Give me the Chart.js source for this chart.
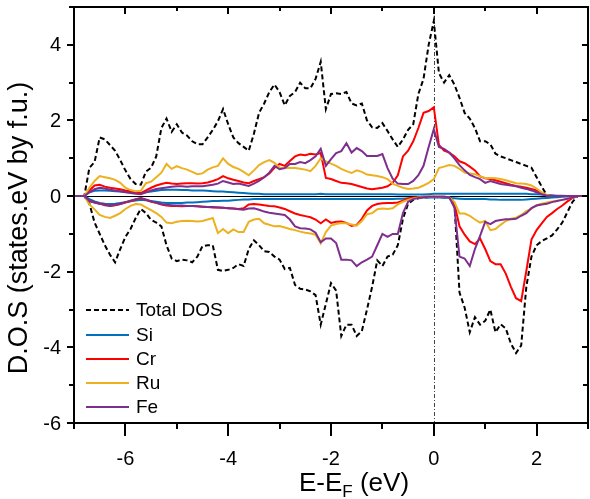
<!DOCTYPE html>
<html>
<head>
<meta charset="utf-8">
<script src="https://cdn.jsdelivr.net/npm/chart.js@4/dist/chart.umd.min.js"></script>
<style>
html,body{margin:0;padding:0;background:#fff;}
canvas{display:block;}
</style>
</head>
<body>
<canvas id="c" width="590" height="499"></canvas>
<script>
// Energy grid E - E_F (eV)
const energy = [-7.0,-6.9,-6.8,-6.7,-6.6,-6.5,-6.4,-6.3,-6.2,-6.1,-6.0,
-5.9,-5.8,-5.7,-5.6,-5.5,-5.4,-5.3,-5.2,-5.1,-5.0,
-4.9,-4.8,-4.7,-4.6,-4.5,-4.4,-4.3,-4.2,-4.1,-4.0,
-3.9,-3.8,-3.7,-3.6,-3.5,-3.4,-3.3,-3.2,-3.1,-3.0,
-2.9,-2.8,-2.7,-2.6,-2.5,-2.4,-2.3,-2.2,-2.1,-2.0,
-1.9,-1.8,-1.7,-1.6,-1.5,-1.4,-1.3,-1.2,-1.1,-1.0,
-0.9,-0.8,-0.7,-0.6,-0.5,-0.4,-0.3,-0.2,-0.1,0.0,
0.1,0.2,0.3,0.4,0.5,0.6,0.7,0.8,0.9,1.0,
1.1,1.2,1.3,1.4,1.5,1.6,1.7,1.8,1.9,2.0,
2.1,2.2,2.3,2.4,2.5,2.6,2.7,2.8,2.9,3.0];

const totalUp = [0,0,0,0.75,0.9,1.55,1.5,1.35,1.2,0.95,0.68,
0.45,0.32,0.3,0.65,0.75,1.05,1.8,2.05,1.7,1.9,
1.68,1.6,1.45,1.37,1.37,1.55,1.75,1.98,2.3,1.9,
1.55,1.4,1.3,1.2,1.65,2.2,2.45,2.75,2.95,2.75,
2.4,2.65,2.75,3.0,2.85,2.85,3.1,3.55,2.3,2.7,
2.72,2.7,2.75,2.45,2.4,2.45,2.0,1.82,1.8,1.93,
1.72,1.5,1.3,1.5,1.75,1.9,2.7,3.1,4.0,4.63,
3.25,3.0,3.2,2.95,2.6,2.2,2.05,1.8,1.45,1.45,
1.37,1.12,1.05,1.0,0.95,0.9,0.85,0.8,0.75,0.5,
0.25,0.02,0,0,0,0,0,0,0,0];
const totalDown = [0,0,0,-0.2,-0.7,-1.0,-1.3,-1.55,-1.75,-1.4,-1.08,
-0.87,-0.58,-0.34,-0.45,-0.63,-0.7,-0.8,-1.3,-1.65,-1.72,
-1.68,-1.7,-1.75,-1.6,-1.32,-1.3,-1.3,-1.95,-1.98,-1.95,
-1.9,-1.8,-1.85,-1.4,-1.17,-1.3,-1.46,-1.48,-1.6,-1.68,
-1.93,-1.9,-2.35,-2.45,-2.47,-2.52,-2.62,-3.4,-2.85,-2.3,
-2.5,-3.7,-3.4,-3.4,-3.7,-3.57,-3.0,-2.4,-1.7,-1.85,
-1.6,-1.55,-1.3,-0.6,-0.2,-0.1,-0.06,-0.04,-0.03,-0.02,
-0.03,-0.04,-0.05,-0.15,-2.55,-2.95,-3.6,-3.2,-3.4,-3.3,
-3.0,-3.6,-3.39,-3.5,-3.9,-4.15,-3.95,-2.4,-1.6,-1.3,
-1.19,-1.12,-1.04,-0.88,-0.7,-0.42,-0.15,0,0,0];

const siUp = [0,0,0,0.1,0.14,0.15,0.15,0.14,0.13,0.12,0.11,
0.1,0.09,0.08,0.1,0.12,0.14,0.16,0.17,0.17,0.17,
0.16,0.16,0.15,0.15,0.15,0.14,0.13,0.12,0.12,0.11,
0.1,0.09,0.08,0.07,0.06,0.06,0.05,0.05,0.05,0.05,
0.05,0.05,0.05,0.05,0.05,0.05,0.05,0.06,0.05,0.05,
0.05,0.05,0.05,0.05,0.05,0.05,0.05,0.05,0.05,0.05,
0.05,0.05,0.04,0.04,0.04,0.04,0.04,0.04,0.05,0.06,
0.06,0.06,0.06,0.06,0.06,0.06,0.06,0.06,0.06,0.06,
0.06,0.06,0.06,0.06,0.06,0.06,0.06,0.06,0.05,0.05,
0.04,0.03,0.02,0.01,0.01,0.005,0,0,0,0];
const siDown = [0,0,0,-0.08,-0.14,-0.18,-0.2,-0.21,-0.2,-0.18,-0.16,
-0.14,-0.12,-0.1,-0.11,-0.13,-0.15,-0.17,-0.18,-0.18,-0.18,
-0.18,-0.17,-0.17,-0.16,-0.15,-0.14,-0.13,-0.13,-0.12,-0.12,
-0.11,-0.1,-0.09,-0.09,-0.08,-0.08,-0.08,-0.08,-0.08,-0.08,
-0.08,-0.08,-0.08,-0.08,-0.08,-0.08,-0.08,-0.08,-0.08,-0.08,
-0.08,-0.08,-0.08,-0.08,-0.08,-0.08,-0.08,-0.08,-0.08,-0.08,
-0.08,-0.08,-0.07,-0.07,-0.06,-0.05,-0.05,-0.04,-0.04,-0.04,
-0.04,-0.04,-0.05,-0.06,-0.07,-0.08,-0.08,-0.08,-0.08,-0.08,
-0.09,-0.09,-0.1,-0.1,-0.1,-0.1,-0.1,-0.09,-0.08,-0.07,
-0.06,-0.05,-0.04,-0.03,-0.02,-0.01,-0.005,0,0,0];

const crUp = [0,0,0,0.15,0.28,0.3,0.25,0.22,0.2,0.18,0.15,
0.13,0.1,0.08,0.15,0.22,0.28,0.32,0.35,0.33,0.32,
0.33,0.34,0.34,0.33,0.34,0.36,0.4,0.45,0.53,0.47,
0.43,0.4,0.36,0.34,0.4,0.45,0.5,0.6,0.75,0.85,
0.8,0.93,1.05,1.1,1.08,1.12,1.1,1.14,0.48,0.45,
0.4,0.35,0.34,0.32,0.28,0.24,0.2,0.18,0.2,0.22,
0.26,0.35,0.55,1.05,1.2,1.45,1.8,2.2,2.25,2.35,
1.35,1.2,1.15,1.05,0.92,0.87,0.78,0.68,0.52,0.47,
0.45,0.42,0.38,0.34,0.3,0.27,0.25,0.22,0.19,0.15,
0.09,0.02,0,0,0,0,0,0,0,0];
const crDown = [0,0,0,-0.13,-0.17,-0.2,-0.22,-0.26,-0.24,-0.21,-0.17,
-0.13,-0.09,-0.06,-0.1,-0.15,-0.18,-0.22,-0.25,-0.26,-0.26,
-0.27,-0.26,-0.26,-0.27,-0.28,-0.29,-0.3,-0.3,-0.31,-0.32,
-0.33,-0.34,-0.32,-0.22,-0.21,-0.22,-0.24,-0.26,-0.27,-0.3,
-0.34,-0.4,-0.46,-0.5,-0.53,-0.56,-0.62,-0.72,-0.62,-0.71,
-0.68,-0.67,-0.71,-0.79,-0.76,-0.6,-0.38,-0.26,-0.21,-0.19,
-0.18,-0.18,-0.17,-0.12,-0.07,-0.04,-0.03,-0.02,-0.02,-0.02,
-0.02,-0.02,-0.03,-0.2,-0.8,-1.02,-1.2,-1.27,-1.12,-1.4,
-1.72,-1.8,-1.8,-2.05,-2.4,-2.7,-2.78,-1.98,-1.15,-0.9,
-0.72,-0.55,-0.45,-0.34,-0.25,-0.14,-0.05,0,0,0];

const ruUp = [0,0,0,0.22,0.4,0.53,0.5,0.47,0.43,0.35,0.22,
0.16,0.13,0.14,0.34,0.38,0.5,0.62,0.85,0.72,0.79,
0.74,0.7,0.64,0.58,0.6,0.7,0.76,0.8,1.0,0.85,
0.77,0.72,0.64,0.55,0.68,0.82,0.9,0.95,0.88,0.75,
0.74,0.74,0.74,0.72,0.7,0.66,0.8,1.0,0.92,0.86,
0.8,0.72,0.66,0.61,0.68,0.64,0.57,0.55,0.53,0.5,
0.45,0.33,0.27,0.22,0.19,0.2,0.22,0.28,0.35,0.45,
0.74,0.78,0.82,0.8,0.72,0.62,0.6,0.58,0.52,0.48,
0.48,0.47,0.45,0.42,0.38,0.34,0.33,0.32,0.28,0.2,
0.1,0.02,0,0,0,0,0,0,0,0];
const ruDown = [0,0,0,-0.22,-0.35,-0.5,-0.55,-0.58,-0.52,-0.45,-0.34,
-0.26,-0.21,-0.22,-0.3,-0.37,-0.45,-0.55,-0.7,-0.72,-0.68,
-0.66,-0.65,-0.66,-0.67,-0.66,-0.62,-0.58,-0.98,-0.87,-0.98,
-0.88,-0.95,-0.95,-0.68,-0.62,-0.6,-0.72,-0.76,-0.8,-0.79,
-0.83,-0.87,-0.9,-0.94,-0.97,-0.99,-1.02,-1.25,-0.95,-0.78,
-0.74,-0.71,-0.72,-0.75,-0.78,-0.66,-0.48,-0.45,-0.35,-0.33,
-0.34,-0.32,-0.22,-0.15,-0.1,-0.06,-0.04,-0.03,-0.02,-0.02,
-0.02,-0.02,-0.03,-0.15,-0.46,-0.46,-0.52,-0.62,-0.7,-0.66,
-0.9,-0.87,-0.76,-0.66,-0.6,-0.57,-0.5,-0.4,-0.33,-0.24,
-0.2,-0.17,-0.14,-0.12,-0.1,-0.07,-0.04,0,0,0];

const feUp = [0,0,0,0.1,0.18,0.22,0.2,0.17,0.15,0.13,0.1,
0.08,0.06,0.05,0.1,0.15,0.19,0.21,0.23,0.25,0.26,
0.26,0.25,0.26,0.26,0.26,0.28,0.3,0.33,0.4,0.36,
0.32,0.33,0.3,0.27,0.33,0.4,0.5,0.62,0.8,0.71,
0.74,0.85,0.85,0.9,0.87,0.95,1.05,1.25,0.8,0.98,
1.14,1.19,1.4,1.15,1.27,1.19,1.06,1.06,1.06,1.11,
0.74,0.46,0.33,0.32,0.32,0.4,0.55,0.8,1.3,1.77,
1.3,1.25,1.15,1.0,0.82,0.68,0.56,0.5,0.45,0.35,
0.4,0.36,0.32,0.3,0.28,0.26,0.22,0.19,0.15,0.1,
0.05,0.01,0,0,0,0,0,0,0,0];
const feDown = [0,0,0,-0.13,-0.17,-0.2,-0.24,-0.26,-0.23,-0.21,-0.16,
-0.12,-0.08,-0.05,-0.09,-0.14,-0.18,-0.21,-0.23,-0.24,-0.25,
-0.25,-0.26,-0.26,-0.27,-0.28,-0.29,-0.29,-0.3,-0.31,-0.32,
-0.33,-0.35,-0.36,-0.33,-0.32,-0.36,-0.41,-0.44,-0.46,-0.48,
-0.5,-0.62,-0.8,-0.85,-0.86,-0.88,-0.97,-1.22,-1.12,-1.12,
-1.24,-1.68,-1.68,-1.7,-1.85,-1.75,-1.68,-1.6,-1.3,-1.0,
-1.08,-1.0,-1.0,-0.45,-0.15,-0.08,-0.05,-0.03,-0.02,-0.02,
-0.02,-0.02,-0.03,-0.3,-1.6,-1.65,-1.85,-1.4,-1.05,-0.68,
-0.74,-0.66,-0.63,-0.61,-0.61,-0.6,-0.52,-0.45,-0.32,-0.25,
-0.22,-0.2,-0.16,-0.13,-0.1,-0.07,-0.04,0,0,0];

// Axis ticks
const xTickValues = [-7,-6,-5,-4,-3,-2,-1,0,1,2,3];
const xTickLabels = ['', '-6', '', '-4', '', '-2', '', '0', '', '2', ''];
const yTickValues = [-6,-5,-4,-3,-2,-1,0,1,2,3,4,5];
const yTickLabels = ['-6', '', '-4', '', '-2', '', '0', '', '2', '', '4', ''];

const seriesNames = ['Total DOS', 'Si', 'Cr', 'Ru', 'Fe'];
const seriesColors = ['#000000', '#0072BD', '#FF0000', '#EDB120', '#7E2F8E'];
const seriesUp = [totalUp, siUp, crUp, ruUp, feUp];
const seriesDown = [totalDown, siDown, crDown, ruDown, feDown];

const FONT = '"Liberation Sans", Arial, sans-serif';

const pts = arr => energy.map((e, i) => ({x: e, y: arr[i]}));

const datasets = [];
seriesNames.forEach((name, k) => {
  [seriesUp[k], seriesDown[k]].forEach((arr, j) => {
    datasets.push({
      label: name,
      legendEntry: j === 0,
      data: pts(arr),
      borderColor: seriesColors[k],
      backgroundColor: seriesColors[k],
      borderWidth: 2,
      borderDash: k === 0 ? [5, 3] : [],
      pointRadius: 0,
      tension: 0,
      fill: false,
      order: 10 - k
    });
  });
});

const decorPlugin = {
  id: 'decor',
  beforeDatasetsDraw(chart) {
    const {ctx, chartArea: a, scales: {x, y}} = chart;
    ctx.save();
    ctx.lineWidth = 1;
    ctx.strokeStyle = '#000';
    const y0 = Math.round(y.getPixelForValue(0)) + 0.5;
    ctx.beginPath(); ctx.moveTo(a.left, y0); ctx.lineTo(a.right, y0); ctx.stroke();
    const x0 = Math.round(x.getPixelForValue(0)) + 0.5;
    ctx.strokeStyle = '#444';
    ctx.setLineDash([4, 2, 1, 2]);
    ctx.beginPath(); ctx.moveTo(x0, a.top); ctx.lineTo(x0, a.bottom); ctx.stroke();
    ctx.restore();
  },
  afterDraw(chart) {
    const {ctx, chartArea: a, scales: {x, y}} = chart;
    ctx.save();
    ctx.strokeStyle = '#000';
    ctx.lineWidth = 2;
    ctx.strokeRect(a.left, a.top, a.right - a.left, a.bottom - a.top);
    ctx.beginPath();
    xTickValues.forEach((v, i) => {
      const px = Math.round(x.getPixelForValue(v));
      const major = xTickLabels[i] !== '';
      ctx.moveTo(px, a.bottom); ctx.lineTo(px, a.bottom + (major ? 13 : 6));
      ctx.moveTo(px, a.top); ctx.lineTo(px, a.top + (major ? 7 : 4));
    });
    yTickValues.forEach((v, i) => {
      const py = Math.round(y.getPixelForValue(v));
      const major = yTickLabels[i] !== '';
      ctx.moveTo(a.left, py); ctx.lineTo(a.left - (major ? 7 : 5), py);
      ctx.moveTo(a.right, py); ctx.lineTo(a.right - (major ? 6 : 5), py);
    });
    ctx.stroke();

    // tick labels
    ctx.fillStyle = '#000';
    ctx.font = '20px ' + FONT;
    ctx.textAlign = 'center';
    ctx.textBaseline = 'middle';
    xTickValues.forEach((v, i) => {
      if (xTickLabels[i]) ctx.fillText(xTickLabels[i], x.getPixelForValue(v), 459);
    });
    ctx.textAlign = 'right';
    yTickValues.forEach((v, i) => {
      if (yTickLabels[i]) ctx.fillText(yTickLabels[i], 61, y.getPixelForValue(v) + 1);
    });

    // axis titles
    ctx.textAlign = 'left';
    ctx.textBaseline = 'alphabetic';
    let tx = 299;
    const by = 491;
    ctx.font = '26px ' + FONT;
    ctx.fillText('E-E', tx, by); tx += ctx.measureText('E-E').width;
    ctx.font = '17px ' + FONT;
    ctx.fillText('F', tx, by + 6); tx += ctx.measureText('F').width;
    ctx.font = '26px ' + FONT;
    ctx.fillText(' (eV)', tx, by);

    ctx.save();
    ctx.translate(20, 228);
    ctx.rotate(-Math.PI / 2);
    ctx.textAlign = 'center';
    ctx.textBaseline = 'middle';
    ctx.font = '27px ' + FONT;
    ctx.fillText('D.O.S (states.eV by f.u.)', 0, 0);
    ctx.restore();

    // legend
    const rows = [310, 335, 359, 383, 407];
    ctx.font = '19px ' + FONT;
    ctx.textAlign = 'left';
    ctx.textBaseline = 'middle';
    chart.data.datasets.filter(d => d.legendEntry).forEach((d, i) => {
      const ry = rows[i];
      ctx.strokeStyle = d.borderColor;
      ctx.lineWidth = 2;
      ctx.setLineDash(d.borderDash);
      ctx.beginPath(); ctx.moveTo(86, ry); ctx.lineTo(129, ry); ctx.stroke();
      ctx.setLineDash([]);
      ctx.fillStyle = '#000';
      ctx.fillText(d.label, 136, ry + 1);
    });
    ctx.restore();
  }
};

new Chart(document.getElementById('c'), {
  type: 'line',
  data: {datasets},
  options: {
    responsive: false,
    animation: false,
    devicePixelRatio: 1,
    layout: {padding: {top: 7, right: 2, left: 0, bottom: 0}},
    plugins: {legend: {display: false}, tooltip: {enabled: false}},
    scales: {
      x: {
        type: 'linear', min: -7, max: 3,
        grid: {display: false}, border: {display: false},
        ticks: {display: false, stepSize: 1},
        afterFit(s) { s.height = 76; }
      },
      y: {
        type: 'linear', min: -6, max: 5,
        grid: {display: false}, border: {display: false},
        ticks: {display: false, stepSize: 1},
        afterFit(s) { s.width = 74; }
      }
    }
  },
  plugins: [decorPlugin]
});
</script>
</body>
</html>
